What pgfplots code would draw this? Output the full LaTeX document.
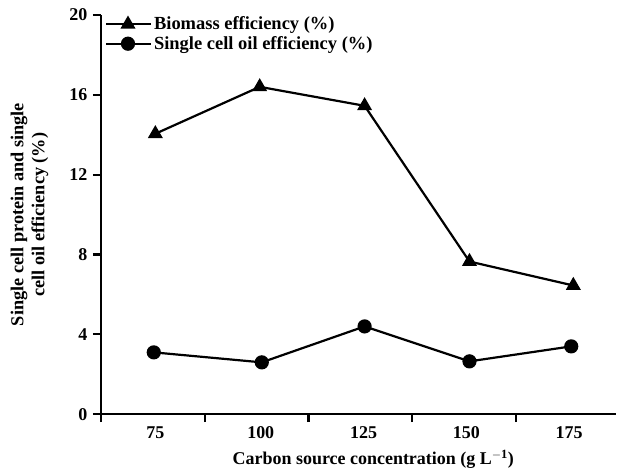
\documentclass[border=0pt]{standalone}
\usepackage{pgfplots}
\pgfplotsset{compat=1.18}
\usepackage{fontspec}
\setmainfont{Liberation Serif}
\begin{document}
\begin{tikzpicture}
\begin{axis}[
  name=ax,
  scale only axis,
  width=516pt, height=400pt,
  xmin=0, xmax=4.96,
  ymin=0, ymax=20,
  axis x line*=bottom, axis y line*=left,
  axis line style={line width=2.2pt,-},
  every tick/.style={line width=2.2pt, black},
  tick align=outside,
  major tick length=8pt,
  xtick={0,1,2,3,4},
  xticklabels={},
  extra x ticks={0.525,1.54,2.53,3.52,4.51},
  extra x tick labels={75,100,125,150,175},
  extra x tick style={major tick length=0pt, tick style={draw=none}},
  ytick={0,4,8,12,16,20},
  /pgf/number format/assume math mode=true,
  ticklabel style={font=\fontsize{18}{20}\selectfont\bfseries},
  xticklabel style={yshift=-9pt},
  yticklabel style={xshift=-2pt},
  xlabel={Carbon source concentration (g L$^{\mathbf{-1}}$)},
  xlabel style={font=\fontsize{18}{20}\selectfont\bfseries, at={(axis description cs:0.529,0)}, anchor=north, yshift=-32pt},
  ylabel={Single cell protein and single\\cell oil efficiency (\%)},
  ylabel style={font=\fontsize{18.3}{21}\selectfont\bfseries, align=center, at={(axis description cs:-0.1386,0.5)}, anchor=center},
  legend style={draw=none, fill=none, at={(axis description cs:0.008,1.0)}, anchor=north west,
    font=\fontsize{18.5}{19}\selectfont\bfseries, row sep=1pt, inner sep=0pt, outer sep=0pt,
    /tikz/every even column/.append style={column sep=8pt}},
  legend cell align=left,
  legend image code/.code={\draw[mark repeat=2,mark phase=2,#1] plot coordinates {(0pt,0pt)(22pt,0pt)(45pt,0pt)};},
  clip=false,
]
\addplot[black, line width=2.2pt, mark=triangle*, mark size=6.5pt, mark options={solid}]
  coordinates {(0.525,14.05) (1.53,16.4) (2.54,15.45) (3.55,7.65) (4.55,6.45)};
\addlegendentry{Biomass efficiency (\%)}
\addplot[black, line width=2.2pt, mark=*, mark size=6pt]
  coordinates {(0.51,3.1) (1.55,2.6) (2.54,4.4) (3.55,2.65) (4.53,3.4)};
\addlegendentry{Single cell oil efficiency (\%)}
\end{axis}
\path ([xshift=-101pt,yshift=-61pt]ax.south west) rectangle ([xshift=0pt,yshift=15pt]ax.north east);
\end{tikzpicture}
\end{document}
